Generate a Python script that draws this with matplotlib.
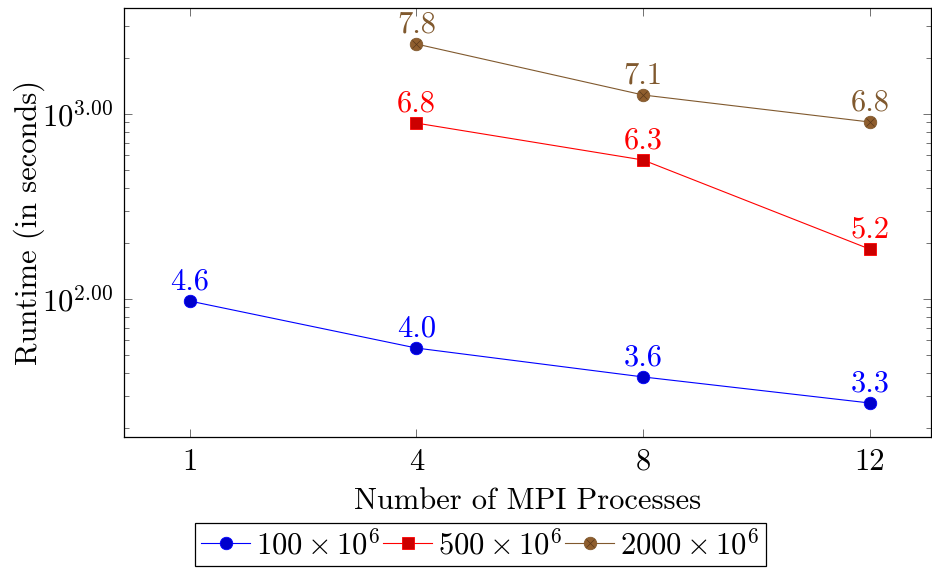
import numpy as np
import matplotlib
matplotlib.use("Agg")
import matplotlib.pyplot as plt
from matplotlib.ticker import FuncFormatter, FixedLocator

plt.rcParams['font.family'] = 'serif'
plt.rcParams['font.serif'] = ['cmr10']
plt.rcParams['mathtext.fontset'] = 'cm'
plt.rcParams['axes.formatter.use_mathtext'] = True

# runtime in seconds per MPI process count
procs = ["1", "4", "8", "12"]
rt_100 = [97.5, 54.3, 37.9, 27.4]
rt_500 = [None, 893, 564, 186]
rt_2000 = [None, 2389, 1267, 905]

series_names = [r"$100\times10^6$", r"$500\times10^6$", r"$2000\times10^6$"]

blue = (0, 0, 1)
red = (1, 0, 0)
brown = (0.5, 0.35, 0.18)

fig = plt.figure(figsize=(9.32, 5.76), dpi=100)
ax = fig.add_axes([124/932, 1-437/576, (931-124)/932, (437-8)/576])
ax.set_yscale('log')

def pts(vals):
    xs = [i for i, v in enumerate(vals) if v is not None]
    ys = [v for v in vals if v is not None]
    return xs, ys

x1, y1 = pts(rt_100)
x2, y2 = pts(rt_500)
x3, y3 = pts(rt_2000)

l1, = ax.plot(x1, y1, color=blue, lw=0.8, marker='o', ms=9,
              mfc=(0, 0, 0.8), mec=blue, mew=0.6, label=series_names[0])
l2, = ax.plot(x2, y2, color=red, lw=0.8, marker='s', ms=8.5,
              mfc=(0.8, 0, 0), mec=red, mew=0.6, label=series_names[1])
l3, = ax.plot(x3, y3, color=brown, lw=0.8, marker='o', ms=9,
              mfc=(0.56, 0.37, 0.18), mec=brown, mew=0.6, label=series_names[2])
l3x, = ax.plot(x3, y3, ls='none', marker='x', ms=6, mec=(0.35, 0.22, 0.1), mew=0.5)

# node labels: natural log of the runtime
for xs, ys, c in [(x1, y1, blue), (x2, y2, red), (x3, y3, brown)]:
    for x, y in zip(xs, ys):
        ax.annotate("%.1f" % np.log(y), (x, y), xytext=(0, 4), textcoords='offset points',
                    ha='center', va='bottom', color=c, fontsize=22)

ax.set_xlim(-0.29, 3.27)
ax.set_ylim(10**1.254, 10**3.573)
ax.xaxis.set_major_locator(FixedLocator(range(len(procs))))
ax.set_xticklabels(procs)
ax.yaxis.set_major_formatter(FuncFormatter(lambda v, p: r"$10^{%.2f}$" % np.log10(v)))

ax.tick_params(which='both', direction='in', top=True, right=True, color='0.35', width=0.6,
               labelsize=22)
ax.tick_params(which='major', length=6, pad=8)
ax.tick_params(which='minor', length=3.5)
for s in ax.spines.values():
    s.set_linewidth(0.9)

ax.set_xlabel("Number of MPI Processes", fontsize=22, labelpad=9)
ax.set_ylabel("Runtime (in seconds)", fontsize=22, labelpad=-2)

leg = fig.legend([l1, l2, (l3, l3x)], series_names, loc='upper center',
                 bbox_to_anchor=(480.5/932, 1-523/576), ncol=3, fontsize=22,
                 frameon=True, fancybox=False, edgecolor='black', framealpha=1,
                 handlelength=1.6, handletextpad=0.2, columnspacing=0.1,
                 borderpad=0.2, borderaxespad=0)
leg.get_frame().set_linewidth(0.9)

fig.savefig("out.png", dpi=100)
